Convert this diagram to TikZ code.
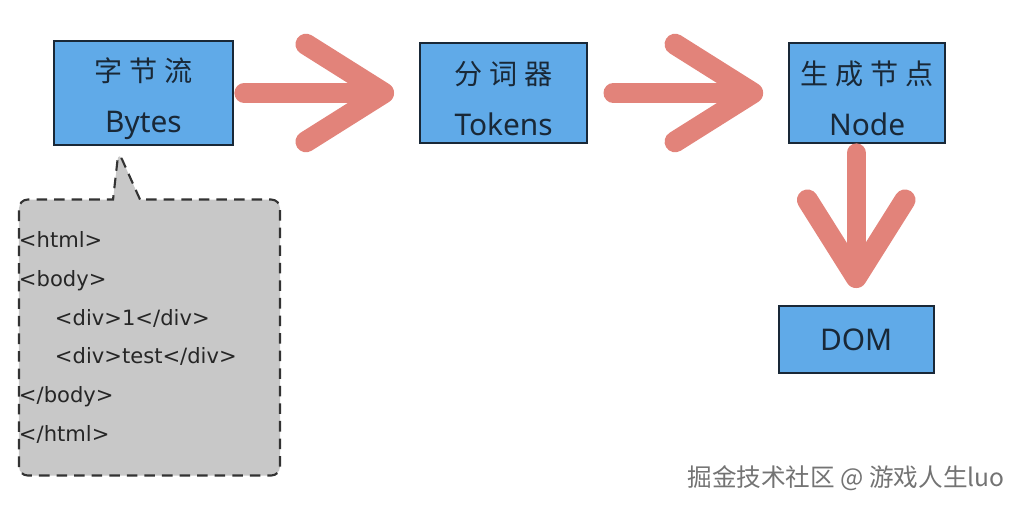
\documentclass[tikz,border=0pt]{standalone}
\usepackage{fontspec}
\setmainfont{Noto Sans}
\newfontfamily\cjk[LetterSpace=25]{Noto Sans CJK SC}
\newfontfamily\cjkplain{Noto Sans CJK SC}
\newfontfamily\codefont{DejaVu Sans}
\usepackage{tikz}
\usetikzlibrary{positioning, shapes.callouts, arrows.meta}

\definecolor{boxblue}{RGB}{96,170,232}
\definecolor{boxline}{RGB}{25,40,55}
\definecolor{arrowred}{RGB}{226,131,122}
\definecolor{notegray}{RGB}{200,200,200}

% Chinese title line of a stage box
\newcommand{\cntitle}[1]{\rule{0pt}{0.7cm}{\cjk\fontsize{16}{16}\selectfont #1}}

\begin{document}
\begin{tikzpicture}[
        stagebox/.style={
            rectangle, draw=boxline, fill=boxblue, line width=1.2pt,
            align=center, text=boxline,
            font=\fontsize{17}{29}\selectfont
        },
        flow/.style={
            draw=arrowred, line width=11pt, line cap=round,
            -{Straight Barb[length=1.55cm, width=1.95cm, line width=12pt, round]}
        }
    ]
        \useasboundingbox (0,0) rectangle (20.48,-10.14);

        \node[stagebox, minimum width=3.58cm, minimum height=2.08cm] (bytes) at (2.87,-1.86) {
            \cntitle{字节流}\\Bytes
        };

        \node[stagebox, minimum width=3.34cm, minimum height=2cm, right=3.7cm of bytes] (tokens) {
            \cntitle{分词器}\\Tokens
        };

        \node[stagebox, minimum width=3.12cm, minimum height=2cm, right=4.0cm of tokens] (gen) {
            \cntitle{生成节点}\\Node
        };

        \node[stagebox, minimum width=3.1cm, minimum height=1.34cm, below=3.22cm of gen, xshift=-0.22cm] (dom) {DOM};

        % source that goes into the byte stream
        \node[rectangle callout, callout absolute pointer={([xshift=-0.5cm, yshift=-0.1cm]bytes.south)},
              callout pointer width=0.54cm,
              draw=black!80, fill=notegray, dash pattern=on 6pt off 4pt, line width=1.2pt,
              rounded corners=5pt, minimum width=5.22cm, minimum height=5.52cm,
              inner xsep=0pt, text width=5.22cm, align=left, text=black!85,
              font=\codefont\fontsize{12}{22}\selectfont, below=1.04cm of bytes, xshift=0.12cm] (src) {
            <html>\\
            <body>\\
            \hspace*{0.72cm}<div>1</div>\\
            \hspace*{0.72cm}<div>test</div>\\
            </body>\\
            </html>
        };

        \draw[flow, shorten <=0.2cm, shorten >=0.5cm] (bytes) -- (tokens);
        \draw[flow, shorten <=0.5cm, shorten >=0.5cm] (tokens) -- (gen);
        \draw[flow, shorten <=0.18cm, shorten >=0.34cm] (gen.south -| dom.north) -- (dom.north);

        \node[text=black!55, font=\cjkplain\fontsize{14}{14}\selectfont] (wm) at (16.92,-9.56) {掘金技术社区 @ 游戏人生luo};
    \end{tikzpicture}
\end{document}
